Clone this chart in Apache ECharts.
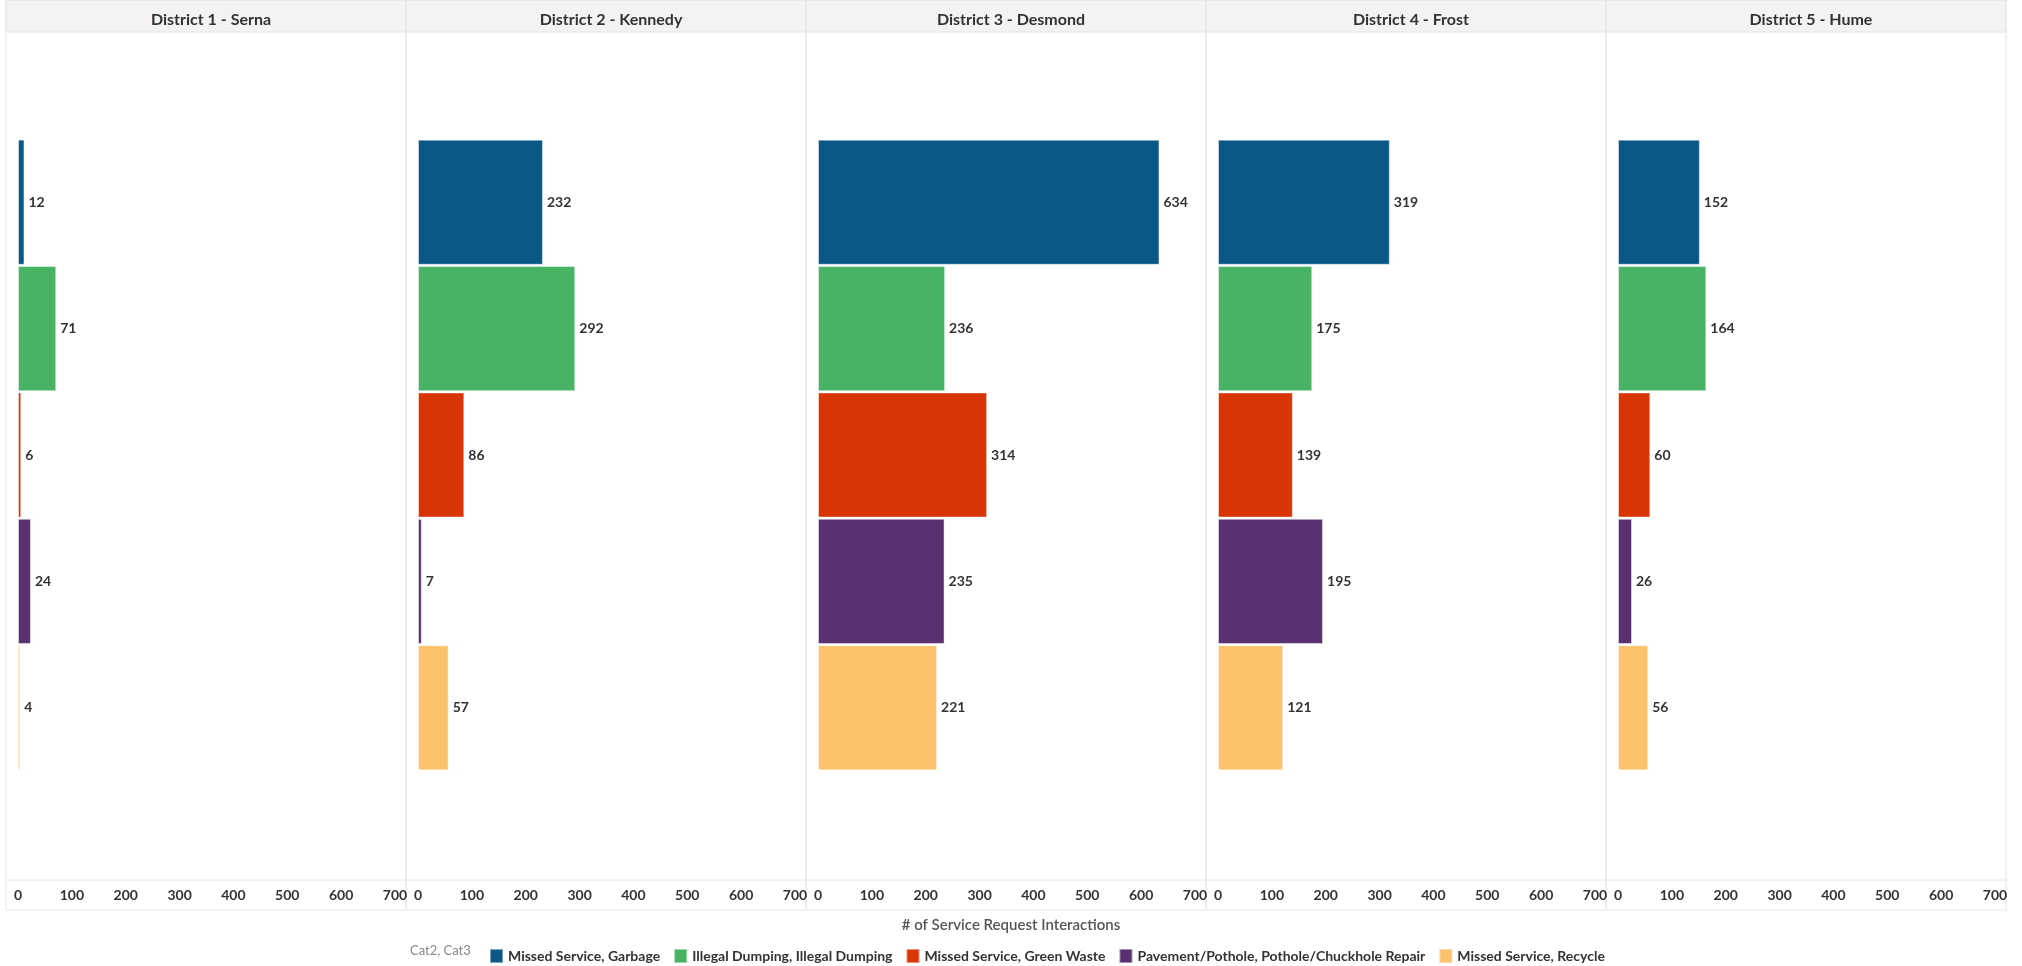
<!DOCTYPE html>
<html>
<head>
<meta charset="utf-8">
<script src="https://cdn.jsdelivr.net/npm/echarts@6/dist/echarts.min.js"></script>
<style>
html, body { margin: 0; padding: 0; background: #fff; }
#chart { width: 2022px; height: 966px; }
</style>
</head>
<body>
<div id="chart"></div>
<script>
// districts (panels) and categories (bars, top to bottom)
var districts = ['District 1 - Serna', 'District 2 - Kennedy', 'District 3 - Desmond', 'District 4 - Frost', 'District 5 - Hume'];
var categories = ['Missed Service, Garbage', 'Illegal Dumping, Illegal Dumping', 'Missed Service, Green Waste',
	'Pavement/Pothole, Pothole/Chuckhole Repair', 'Missed Service, Recycle'];
// values per category, one entry per district
var garbage = [12, 232, 634, 319, 152];
var illegalDumping = [71, 292, 236, 175, 164];
var greenWaste = [6, 86, 314, 139, 60];
var pothole = [24, 7, 235, 195, 26];
var recycle = [4, 57, 221, 121, 56];
var xMax = 700;
var xInterval = 100;

var values = [garbage, illegalDumping, greenWaste, pothole, recycle];
var colors = ['#0b5887', '#48b365', '#d93506', '#5a3170', '#fbc26b'];
var font = 'Lato, "Open Sans", sans-serif';

// layout
var panelLeft = 6, panelW = 400, headerH = 32, axisTop = 880, axisBottom = 910;
var barsTop = 139, barsH = 632;

var chart = echarts.init(document.getElementById('chart'));

var grids = [], xAxes = [], yAxes = [], titles = [], series = [], graphics = [];
for (var d = 0; d < districts.length; d++) {
	var L = panelLeft + panelW * d;
	grids.push({ left: L + 12, top: barsTop, width: 377, height: barsH });
	xAxes.push({
		gridIndex: d, type: 'value', min: 0, max: xMax, interval: xInterval,
		offset: axisTop - (barsTop + barsH),
		axisLine: { show: false }, axisTick: { show: false }, splitLine: { show: false },
		axisLabel: { color: '#333', fontWeight: 'bold', fontSize: 14, fontFamily: font, margin: 8 }
	});
	yAxes.push({
		gridIndex: d, type: 'category', data: categories, inverse: true, show: false
	});
	titles.push({
		text: districts[d], left: L + panelW / 2, top: 7, textAlign: 'center',
		textStyle: { color: '#333', fontSize: 16, fontWeight: 'bold', fontFamily: font }
	});
	graphics.push({
		type: 'rect', z: -10, shape: { x: L, y: 0, width: panelW, height: headerH },
		style: { fill: '#f4f3f1', stroke: '#e4e4e4', lineWidth: 1 }
	});
	graphics.push({
		type: 'rect', z: -10, shape: { x: L, y: 0, width: panelW, height: axisBottom },
		style: { fill: 'none', stroke: '#e6e6e6', lineWidth: 1 }
	});
	for (var c = 0; c < categories.length; c++) {
		var data = [];
		for (var k = 0; k < categories.length; k++) {
			data.push(k === c ? values[c][d] : '-');
		}
		series.push({
			name: categories[c], type: 'bar', xAxisIndex: d, yAxisIndex: d, stack: 'd' + d,
			barCategoryGap: '1%', data: data,
			itemStyle: { color: colors[c], borderColor: 'rgba(255,255,255,0.45)', borderWidth: 1 },
			label: {
				show: true, position: 'right', distance: 4,
				color: '#333', fontWeight: 'bold', fontSize: 14, fontFamily: font
			}
		});
	}
}
// axis band line
graphics.push({
	type: 'line', z: -10, shape: { x1: panelLeft, y1: axisTop, x2: panelLeft + panelW * 5, y2: axisTop },
	style: { stroke: '#e6e6e6', lineWidth: 1 }
});
graphics.push({
	type: 'text', left: 'center', top: 918,
	style: { text: '# of Service Request Interactions', fill: '#555', fontSize: 15, fontFamily: font, fontWeight: 600 }
});
graphics.push({
	type: 'text', left: 410, top: 944,
	style: { text: 'Cat2, Cat3', fill: '#888', fontSize: 13, fontFamily: font }
});

var option = {
	animation: false,
	title: titles,
	grid: grids,
	xAxis: xAxes,
	yAxis: yAxes,
	graphic: graphics,
	legend: {
		data: categories, left: 484, top: 943, icon: 'rect', itemWidth: 13, itemHeight: 14, itemGap: 13,
		textStyle: { color: '#333', fontWeight: 'bold', fontSize: 14, fontFamily: font }
	},
	series: series
};
chart.setOption(option);
</script>
</body>
</html>
